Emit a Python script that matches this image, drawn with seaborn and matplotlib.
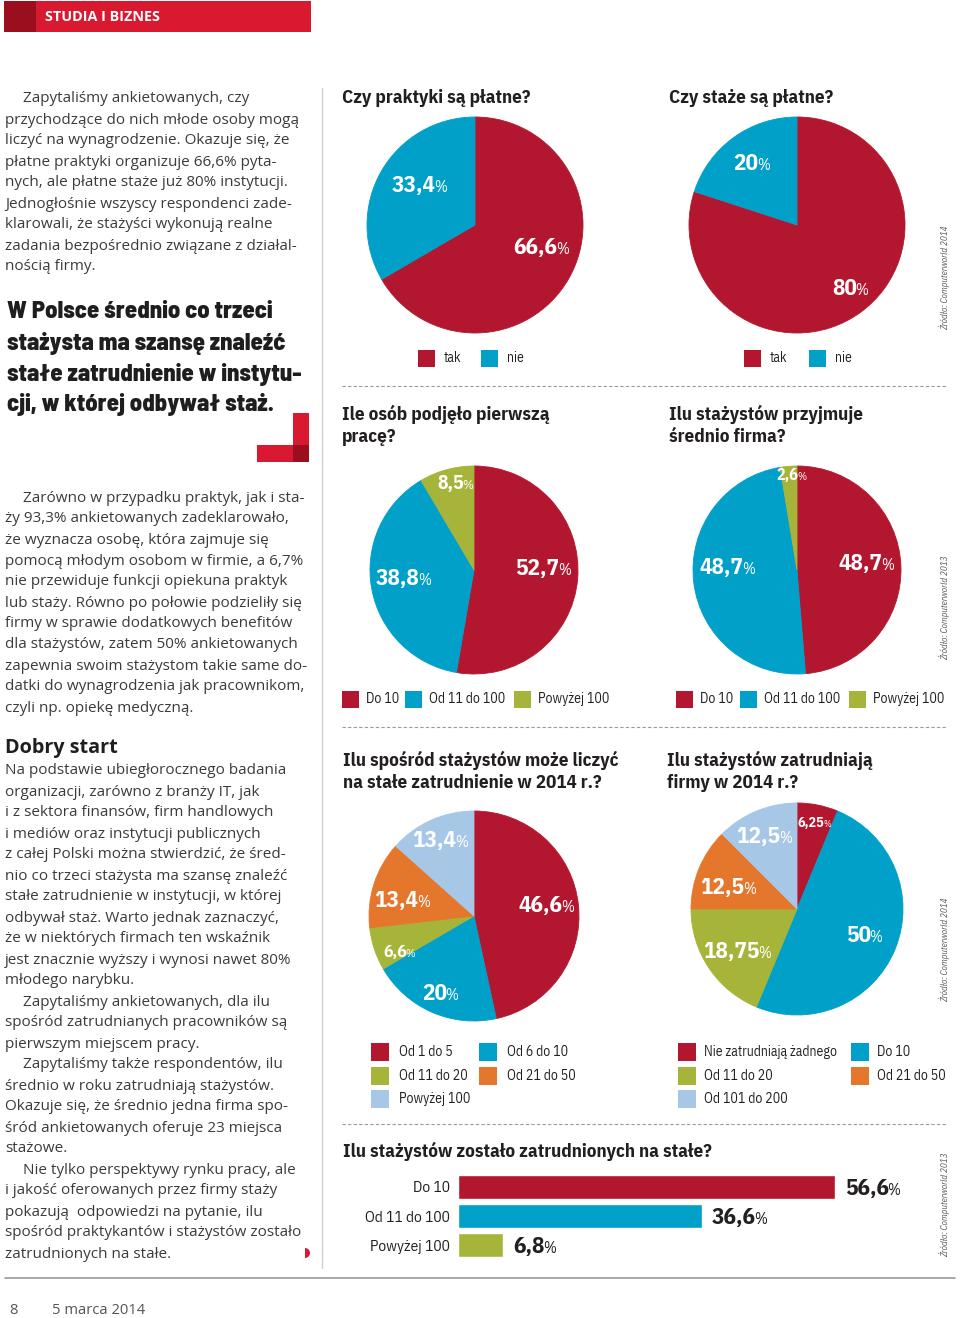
import matplotlib
matplotlib.use("Agg")
import matplotlib.pyplot as plt
import seaborn as sns
from matplotlib import font_manager as fm
from matplotlib.patches import Rectangle, Wedge
from matplotlib.lines import Line2D
from matplotlib.transforms import IdentityTransform

# ---------------- data ----------------
pie1_title = ["Czy praktyki są płatne?"]
pie1_cats = ["tak", "nie"]
pie1_vals = [66.6, 33.4]

pie2_title = ["Czy staże są płatne?"]
pie2_cats = ["tak", "nie"]
pie2_vals = [80, 20]

pie3_title = ["Ile osób podjęło pierwszą", "pracę?"]
pie3_cats = ["Do 10", "Od 11 do 100", "Powyżej 100"]
pie3_vals = [52.7, 38.8, 8.5]

pie4_title = ["Ilu stażystów przyjmuje", "średnio firma?"]
pie4_cats = ["Do 10", "Od 11 do 100", "Powyżej 100"]
pie4_vals = [48.7, 48.7, 2.6]

pie5_title = ["Ilu spośród stażystów może liczyć", "na stałe zatrudnienie w 2014 r.?"]
pie5_cats = ["Od 1 do 5", "Od 6 do 10", "Od 11 do 20", "Od 21 do 50", "Powyżej 100"]
pie5_vals = [46.6, 20, 6.6, 13.4, 13.4]

pie6_title = ["Ilu stażystów zatrudniają", "firmy w 2014 r.?"]
pie6_cats = ["Nie zatrudniają żadnego", "Do 10", "Od 11 do 20", "Od 21 do 50", "Od 101 do 200"]
pie6_vals = [6.25, 50, 18.75, 12.5, 12.5]

bar_title = "Ilu stażystów zostało zatrudnionych na stałe?"
bar_cats = ["Do 10", "Od 11 do 100", "Powyżej 100"]
bar_vals = [56.6, 36.6, 6.8]

sources = ["Źródło: Computerworld 2014", "Źródło: Computerworld 2013",
           "Źródło: Computerworld 2014", "Źródło: Computerworld 2013"]

header = "STUDIA I BIZNES"
quote = ["W Polsce średnio co trzeci", "stażysta ma szansę znaleźć",
         "stałe zatrudnienie w instytu-", "cji, w której odbywał staż."]
block1 = ["»Zapytaliśmy ankietowanych, czy",
          "przychodzące do nich młode osoby mogą",
          "liczyć na wynagrodzenie. Okazuje się, że",
          "płatne praktyki organizuje 66,6% pyta-",
          "nych, ale płatne staże już 80% instytucji.",
          "Jednogłośnie wszyscy respondenci zade-",
          "klarowali, że stażyści wykonują realne",
          "zadania bezpośrednio związane z działal-",
          "nością firmy."]
block2 = ["»Zarówno w przypadku praktyk, jak i sta-",
          "ży 93,3% ankietowanych zadeklarowało,",
          "że wyznacza osobę, która zajmuje się",
          "pomocą młodym osobom w firmie, a 6,7%",
          "nie przewiduje funkcji opiekuna praktyk",
          "lub staży. Równo po połowie podzieliły się",
          "firmy w sprawie dodatkowych benefitów",
          "dla stażystów, zatem 50% ankietowanych",
          "zapewnia swoim stażystom takie same do-",
          "datki do wynagrodzenia jak pracownikom,",
          "czyli np. opiekę medyczną."]
subhead = "Dobry start"
block3 = ["Na podstawie ubiegłorocznego badania",
          "organizacji, zarówno z branży IT, jak",
          "i z sektora finansów, firm handlowych",
          "i mediów oraz instytucji publicznych",
          "z całej Polski można stwierdzić, że śred-",
          "nio co trzeci stażysta ma szansę znaleźć",
          "stałe zatrudnienie w instytucji, w której",
          "odbywał staż. Warto jednak zaznaczyć,",
          "że w niektórych firmach ten wskaźnik",
          "jest znacznie wyższy i wynosi nawet 80%",
          "młodego narybku.",
          "»Zapytaliśmy ankietowanych, dla ilu",
          "spośród zatrudnianych pracowników są",
          "pierwszym miejscem pracy.",
          "»Zapytaliśmy także respondentów, ilu",
          "średnio w roku zatrudniają stażystów.",
          "Okazuje się, że średnio jedna firma spo-",
          "śród ankietowanych oferuje 23 miejsca",
          "stażowe.",
          "»Nie tylko perspektywy rynku pracy, ale",
          "i jakość oferowanych przez firmy staży",
          "pokazują  odpowiedzi na pytanie, ilu",
          "spośród praktykantów i stażystów zostało",
          "zatrudnionych na stałe."]
footer_page = "8"
footer_date = "5 marca 2014"

# ---------------- style ----------------
RED = "#b3172f"
BLUE = "#00a0c8"
GREEN = "#a6b43a"
ORANGE = "#e5772d"
LBLUE = "#a7c7e6"
HRED = "#d8192f"
HDARK = "#9a0e1e"
DARK = "#231f20"
TEXT = "#3b3b3b"

sns.set_theme(style="white")


def _w(f):
    w = f.weight
    if isinstance(w, str):
        w = fm.weight_dict.get(w, 400)
    return w


def pick(prefs):
    for p in prefs:
        ents = [f for f in fm.fontManager.ttflist if f.name == p and "[" not in f.fname]
        if any(_w(f) >= 650 and f.style == "normal" for f in ents) and \
           any(_w(f) == 400 and f.style == "normal" for f in ents):
            return p
    return "DejaVu Sans"


NARROW = pick(["IBM Plex Sans Condensed", "Fira Sans Condensed", "PT Sans Narrow",
               "Liberation Sans Narrow", "Liberation Sans"])
BODY = pick(["Open Sans", "Fira Sans", "Liberation Sans"])
QUOTE = pick(["Barlow Semi Condensed", "Barlow", "Lato", "Roboto"])
plt.rcParams["font.family"] = [BODY, "DejaVu Sans"]

W, H = 960, 1318
fig = plt.figure(figsize=(W / 100, H / 100), dpi=100)
fig.patch.set_facecolor("white")
R = fig.canvas.get_renderer()


def fit(text, target, family, weight="normal", style="normal", base=20.0):
    t = fig.text(0, 0, text, fontsize=base, family=family, fontweight=weight, style=style)
    w = t.get_window_extent(R).width
    t.remove()
    return base * target / w


S_TITLE = fit("Czy praktyki są płatne?", 189, NARROW, "bold")
S_LEG = fit("Od 11 do 100", 76, NARROW)
S_BARCAT = fit("Powyżej 100", 80, NARROW)
S_PCT = fit("66,6", 44, NARROW, "bold")
S_PCTSIGN = fit("%", 13, NARROW)
S_SRC = fit("Źródło: Computerworld 2014", 105, NARROW, style="italic")
S_BODY = fit("przychodzące do nich młode osoby mogą", 293, BODY)
S_QUOTE = fit("stałe zatrudnienie w instytu-", 294, QUOTE, "heavy")
S_SUB = fit("Dobry start", 112, BODY, "bold")
S_HEAD = fit("STUDIA I BIZNES", 115, BODY, "bold")
S_FOOT = fit("5 marca 2014", 93, BODY)


def fxy(x, y):
    return x / W, 1 - y / H


def rect(x0, y0, x1, y1, color):
    fig.patches.append(Rectangle((x0, H - y1), x1 - x0, y1 - y0, transform=IdentityTransform(),
                                 facecolor=color, edgecolor="none", figure=fig))


def hline(x0, x1, y, color, lw=1.0, ls="-"):
    fig.add_artist(Line2D([x0 / W, x1 / W], [1 - y / H, 1 - y / H], transform=fig.transFigure,
                          color=color, lw=lw, ls=ls))


def vline(x, y0, y1, color, lw=1.0):
    fig.add_artist(Line2D([x / W, x / W], [1 - y0 / H, 1 - y1 / H], transform=fig.transFigure,
                          color=color, lw=lw))


def ntext(x, y, s, size, color=DARK, weight="normal", ha="left", va="center", **kw):
    return fig.text(*fxy(x, y), s, fontsize=size, color=color, fontweight=weight, ha=ha, va=va,
                    family=NARROW, **kw)


def fmt(v):
    return f"{v:g}".replace(".", ",")


def pct_label(x, y, num, scale=1.0, color="white", align="center"):
    size = S_PCT * scale
    psize = S_PCTSIGN * scale
    kw = dict(family=NARROW, color=color, ha="left", va="baseline")
    t1 = fig.text(0, 0, num, fontsize=size, fontweight="bold", **kw)
    t2 = fig.text(0, 0, "%", fontsize=psize, fontweight="normal", **kw)
    w1 = t1.get_window_extent(R).width
    w2 = t2.get_window_extent(R).width
    left = x - (w1 + w2) / 2 if align == "center" else x
    base = y + 0.36 * size * 100 / 72
    t1.set_position(fxy(left, base))
    t2.set_position(fxy(left + w1 - 1.5 * scale, base))


def draw_pie(cx, cy, r, vals, colors):
    ax = fig.add_axes([(cx - r) / W, 1 - (cy + r) / H, 2 * r / W, 2 * r / H])
    wedges, _ = ax.pie(vals, colors=colors, startangle=90, counterclock=False,
                       wedgeprops=dict(linewidth=0.6))
    for w in wedges:
        w.set_edgecolor(w.get_facecolor())
    ax.set_xlim(-1, 1)
    ax.set_ylim(-1, 1)
    ax.axis("off")
    return ax


def legend(xs, ys, cats, colors, sq=17, gap=26):
    ncol = len(xs)
    for i, (c, col) in enumerate(zip(cats, colors)):
        x = xs[i % ncol]
        y = ys[i // ncol]
        rect(x, y - sq / 2, x + sq, y + sq / 2, col)
        ntext(x + gap, y, c, S_LEG, color=DARK)


def title(x, ys, lines):
    for y, l in zip(ys, lines):
        ntext(x, y, l, S_TITLE, color=DARK, weight="bold")


def source(y, s):
    ntext(944, y, s, S_SRC, color="#555555", ha="center", rotation=90, style="italic")


# ---------------- header ----------------
rect(4, 1, 311, 32, HRED)
rect(4, 1, 36, 32, HDARK)
fig.text(*fxy(45, 17), header, fontsize=S_HEAD, fontweight="bold", color="white", ha="left",
         va="center", family=BODY)


# ---------------- left column text ----------------
def body(lines, y0, step=21):
    for i, l in enumerate(lines):
        x = 5
        if l.startswith("»"):
            l = l[1:]
            x = 23
        fig.text(*fxy(x, y0 + 2 + i * step), l, fontsize=S_BODY, color=TEXT, ha="left",
                 va="center", family=BODY)


body(block1, 97)
for i, l in enumerate(quote):
    fig.text(*fxy(7, 312 + i * 31), l, fontsize=S_QUOTE, color="#1e1e1e", fontweight="heavy",
             ha="left", va="center", family=QUOTE)
rect(293, 413, 309, 462, HRED)
rect(257, 445, 309, 462, HRED)
rect(293, 445, 309, 462, HDARK)
body(block2, 496)
fig.text(*fxy(5, 748), subhead, fontsize=S_SUB, fontweight="bold", color="#1e1e1e", ha="left",
         va="center", family=BODY)
body(block3, 769)
fig.patches.append(Wedge((305, H - 1253), 5, -90, 90, transform=IdentityTransform(),
                         facecolor=HRED, edgecolor="none", figure=fig))

# rules
vline(322, 88, 1268, "#cfcfcf", lw=1.0)
hline(5, 955, 1278, "#9a9a9a", lw=1.2)
for y in (386, 727, 1124):
    hline(342, 946, y, "#9a9a9a", lw=0.8, ls=(0, (3, 2)))

# footer
fig.text(*fxy(9, 1310), footer_page, fontsize=S_FOOT, color="#555555", ha="left", va="center", family=BODY)
fig.text(*fxy(52, 1310), footer_date, fontsize=S_FOOT, color="#555555", ha="left", va="center", family=BODY)

# ---------------- pies ----------------
c2 = [RED, BLUE]
c3 = [RED, BLUE, GREEN]
c5 = [RED, BLUE, GREEN, ORANGE, LBLUE]

title(342, [98], pie1_title)
draw_pie(475, 225, 108, pie1_vals, c2)
pct_label(542, 246, fmt(pie1_vals[0]))
pct_label(420, 184, fmt(pie1_vals[1]))
legend([418, 481], [358], pie1_cats, c2)

title(669, [98], pie2_title)
draw_pie(797, 225, 108, pie2_vals, c2)
pct_label(851, 287, fmt(pie2_vals[0]))
pct_label(752, 162, fmt(pie2_vals[1]))
legend([744, 809], [358], pie2_cats, c2)

title(342, [414, 437], pie3_title)
draw_pie(474, 570, 104, pie3_vals, c3)
pct_label(544, 567, fmt(pie3_vals[0]))
pct_label(404, 577, fmt(pie3_vals[1]))
pct_label(456, 482, fmt(pie3_vals[2]), 0.85)
legend([342, 405, 514], [699], pie3_cats, c3, gap=24)

title(669, [414, 437], pie4_title)
draw_pie(797, 570, 104, pie4_vals, c3)
pct_label(867, 562, fmt(pie4_vals[0]))
pct_label(728, 566, fmt(pie4_vals[1]))
pct_label(792, 474, fmt(pie4_vals[2]), 0.7)
legend([676, 740, 849], [699], pie4_cats, c3, gap=24)

title(343, [760, 783], pie5_title)
draw_pie(474, 916, 105, pie5_vals, c5)
pct_label(547, 904, fmt(pie5_vals[0]))
pct_label(441, 992, fmt(pie5_vals[1]))
pct_label(400, 951, fmt(pie5_vals[2]), 0.75)
pct_label(403, 899, fmt(pie5_vals[3]))
pct_label(441, 839, fmt(pie5_vals[4]))
legend([371, 479], [1052, 1076, 1099], pie5_cats, c5, sq=18, gap=28)

title(667, [760, 783], pie6_title)
draw_pie(797, 909, 106, pie6_vals, c5)
pct_label(815, 822, fmt(pie6_vals[0]), 0.6)
pct_label(865, 934, fmt(pie6_vals[1]))
pct_label(738, 950, fmt(pie6_vals[2]))
pct_label(729, 886, fmt(pie6_vals[3]))
pct_label(765, 835, fmt(pie6_vals[4]))
legend([678, 851], [1052, 1076, 1099], pie6_cats, c5, sq=18, gap=26)

for y, s in zip([278, 608, 950, 1205], sources):
    source(y, s)

# ---------------- bar chart ----------------
title(343, [1151], [bar_title])
axb = fig.add_axes([458 / W, 1 - 1259.5 / H, 466 / W, 87 / H])
sns.barplot(x=bar_vals, y=bar_cats, hue=bar_cats, palette=c3, legend=False, ax=axb,
            width=0.8, saturation=1, orient="h")
axb.set_xlim(0, 70)
axb.set_ylim(2.5, -0.5)
sns.despine(ax=axb, left=True, bottom=True)
axb.set_xticks([])
axb.set_xlabel("")
axb.set_ylabel("")
axb.tick_params(axis="y", length=0, pad=6)
for lab in axb.get_yticklabels():
    lab.set_fontfamily(NARROW)
    lab.set_fontsize(S_BARCAT)
    lab.set_color(DARK)
for i, v in enumerate(bar_vals):
    xd, yd = axb.transData.transform((v, i))
    pct_label(xd + 10, H - yd, fmt(v), color=DARK, align="left")

fig.savefig("out.png", dpi=100, facecolor="white")
